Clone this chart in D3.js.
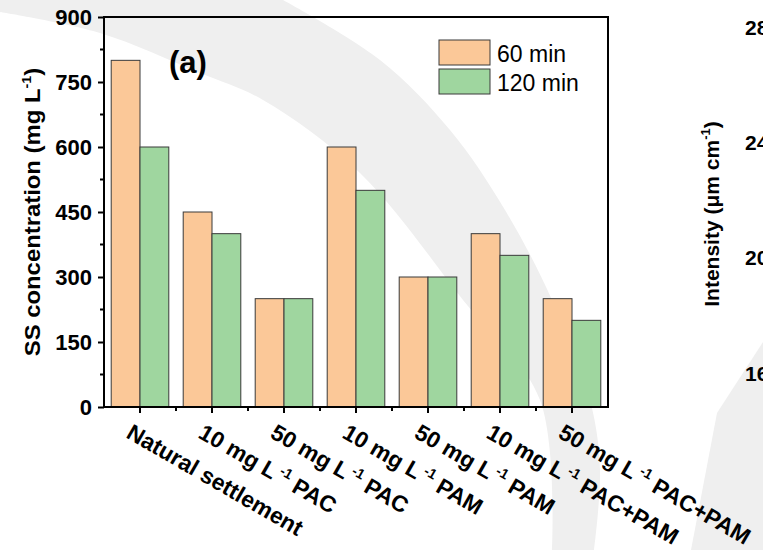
<!DOCTYPE html>
<html>
<head>
<meta charset="utf-8">
<script src="https://cdn.jsdelivr.net/npm/d3@7"></script>
<style>
  html, body { margin: 0; padding: 0; background: #fff; }
  svg { display: block; }
  text { font-family: Arial, "Liberation Sans", sans-serif; }
</style>
</head>
<body>
<svg id="chart" width="763" height="550"></svg>
<script>
// ---- data ----
const categories = [
  ["Natural settlement"],
  ["10 mg L", "-1", " PAC"],
  ["50 mg L", "-1", " PAC"],
  ["10 mg L", "-1", " PAM"],
  ["50 mg L", "-1", " PAM"],
  ["10 mg L", "-1", " PAC+PAM"],
  ["50 mg L", "-1", " PAC+PAM"]
];
const seriesNames = ["60 min", "120 min"];
const values60 = [800, 450, 250, 600, 300, 400, 250];
const values120 = [600, 400, 250, 500, 300, 350, 200];
const yTicks = [0, 150, 300, 450, 600, 750, 900];
const yMinorTicks = [75, 225, 375, 525, 675, 825];
const rightPanelTicks = ["28", "24", "20", "16"];
const colors = ["#FBC898", "#9FD69F"];

// ---- layout ----
const svg = d3.select("#chart");
const pLeft = 104, pRight = 608, pTop = 17, pBottom = 407;

// watermark (faint background decoration)
const wm = svg.append("g").attr("fill", "#efefef");
const outerEdge = [[283, 0], [380, 60], [450, 130], [505, 210], [552, 300], [590, 400], [600, 470], [594, 550]];
const innerEdge = [[552, 550], [540, 400], [463, 300], [360, 173], [263, 100], [200, 73], [100, 33], [0, 12]];
const lc = d3.line().curve(d3.curveCatmullRom);
wm.append("path").attr("d", "M0,0L" + lc(outerEdge).slice(1) + "L" + lc(innerEdge).slice(1) + "Z");
wm.append("path").attr("d", d3.line()([[763, 342], [717, 413], [691, 550], [763, 550]]));

const x = d3.scaleBand().domain(d3.range(categories.length)).range([pLeft, pRight])
  .paddingInner(0.2).paddingOuter(0.1);
const xs = d3.scaleBand().domain([0, 1]).range([0, x.bandwidth()]);
const y = d3.scaleLinear().domain([0, 900]).range([pBottom, pTop]);

// bars
const series = [values60, values120];
series.forEach((vals, si) => {
  svg.append("g").selectAll("rect").data(vals).join("rect")
    .attr("x", (d, i) => x(i) + xs(si))
    .attr("y", d => y(d))
    .attr("width", xs.bandwidth())
    .attr("height", d => y(0) - y(d))
    .attr("fill", colors[si])
    .attr("stroke", "#3a3a3a")
    .attr("stroke-width", 1);
});

// frame
svg.append("rect").attr("x", pLeft).attr("y", pTop).attr("width", pRight - pLeft).attr("height", pBottom - pTop)
  .attr("fill", "none").attr("stroke", "#000").attr("stroke-width", 2);

// y axis
const yAxis = svg.append("g").attr("transform", `translate(${pLeft},0)`)
  .call(d3.axisLeft(y).tickValues(yTicks).tickSize(6).tickPadding(6).tickFormat(d3.format("d")));
yAxis.select(".domain").remove();
yAxis.selectAll(".tick line").attr("stroke", "#000").attr("stroke-width", 2);
yAxis.selectAll(".tick text").attr("font-size", 22).attr("font-weight", "bold").attr("fill", "#000")
  .attr("font-family", 'Arial, "Liberation Sans", sans-serif');
svg.append("g").selectAll("line").data(yMinorTicks).join("line")
  .attr("x1", pLeft - 4).attr("x2", pLeft).attr("y1", d => y(d)).attr("y2", d => y(d))
  .attr("stroke", "#000").attr("stroke-width", 2);

// x axis ticks
const xt = svg.append("g");
xt.selectAll("line.major").data(d3.range(categories.length)).join("line")
  .attr("class", "major")
  .attr("x1", i => x(i) + x.bandwidth() / 2).attr("x2", i => x(i) + x.bandwidth() / 2)
  .attr("y1", pBottom).attr("y2", pBottom + 6).attr("stroke", "#000").attr("stroke-width", 2);
xt.selectAll("line.minor").data(d3.range(1, categories.length)).join("line")
  .attr("class", "minor")
  .attr("x1", i => x(i) - x.step() * x.paddingInner() / 2).attr("x2", i => x(i) - x.step() * x.paddingInner() / 2)
  .attr("y1", pBottom).attr("y2", pBottom + 4).attr("stroke", "#000").attr("stroke-width", 2);

// x labels (rotated)
categories.forEach((parts, i) => {
  const cx = x(i) + x.bandwidth() / 2 - 15;
  const t = svg.append("text")
    .attr("transform", `translate(${cx},${pBottom + 30}) rotate(30)`)
    .attr("font-size", 22.8).attr("font-weight", "bold").attr("fill", "#000");
  t.append("tspan").text(parts[0]);
  if (parts.length > 1) {
    t.append("tspan").attr("font-size", 14).attr("dy", -9).attr("dx", 3).text(parts[1]);
    t.append("tspan").attr("dy", 9).text(parts[2]);
  }
});

// y axis title
const yt = svg.append("text")
  .attr("transform", `translate(40,${(pTop + pBottom) / 2}) rotate(-90) scale(1.11,1)`)
  .attr("text-anchor", "middle").attr("font-size", 21.5).attr("font-weight", "bold");
yt.append("tspan").text("SS concentration (mg L");
yt.append("tspan").attr("font-size", 13).attr("dy", -9).text("-1");
yt.append("tspan").attr("dy", 9).text(")");

// panel label
svg.append("text").attr("x", 169).attr("y", 73).attr("font-size", 31).attr("font-weight", "bold").text("(a)");

// legend
const lg = svg.append("g");
seriesNames.forEach((n, i) => {
  lg.append("rect").attr("x", 439).attr("y", 40 + i * 29).attr("width", 51).attr("height", 25)
    .attr("fill", colors[i]).attr("stroke", "#3a3a3a").attr("stroke-width", 1);
  lg.append("text").attr("x", 497).attr("y", 61.5 + i * 29).attr("font-size", 23).text(n);
});

// neighbouring panel fragment (clipped at page edge, as in the source)
const rt = svg.append("text")
  .attr("transform", `translate(719,214) rotate(-90)`)
  .attr("text-anchor", "middle").attr("font-size", 21).attr("font-weight", "bold");
rt.append("tspan").text("Intensity (μm cm");
rt.append("tspan").attr("font-size", 13).attr("dy", -9).text("-1");
rt.append("tspan").attr("dy", 9).text(")");
const rY = d3.scalePoint().domain(rightPanelTicks).range([27, 373]);
svg.append("g").selectAll("text").data(rightPanelTicks).join("text")
  .attr("x", 745).attr("y", d => rY(d)).attr("dy", "0.36em")
  .attr("font-size", 21).attr("font-weight", "bold").text(d => d);
</script>
</body>
</html>
